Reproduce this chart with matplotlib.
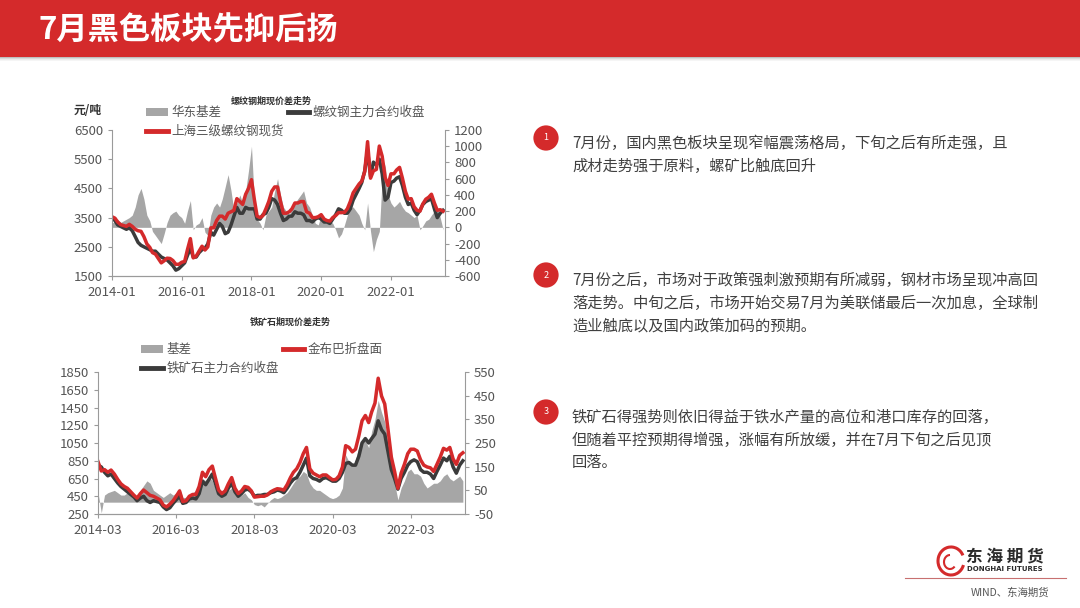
import matplotlib
matplotlib.use('Agg')
import matplotlib.pyplot as plt
import matplotlib.dates as mdates
from matplotlib.patches import Rectangle, Arc, Patch
from matplotlib.lines import Line2D
import pandas as pd

plt.rcParams['font.family'] = ['Noto Sans CJK SC', 'DejaVu Sans']
plt.rcParams['axes.unicode_minus'] = False

# ---- rebar: monthly, 2014-01 .. 2023-07
rebar_basis = [50, 80, 100, 60, 80, 100, 120, 150, 250, 400, 480, 350,
               150, 80, -50, -100, -150, -200, -80, 60, 150, 180, 200, 150,
               120, 50, 200, 330, -30, 30, 50, 120, -60, -100, 150, 250,
               300, 250, 350, 500, 650, 450, 200, 300, 400, 300, 450, 700,
               1000, 300, 100, 50, -30, 150, 200, 250, 450, 600, 400, 250,
               200, 150, 250, 300, 350, 400, 450, 300, 250, 150, 50, 30,
               150, 100, 50, 80, 50, -30, -130, -80, 30, 150, 250, 250,
               200, 150, 50, -30, 300, -50, -300, -150, -50, 600, 780, 400,
               300, 250, 280, 320, 250, 200, 180, 150, 120, 150, -30, 20,
               80, 100, 150, 200, 250, 120, -30]
rebar_fut = [3480, 3400, 3250, 3200, 3150, 3100, 3150, 3050, 2850, 2650, 2550, 2500,
             2450, 2400, 2350, 2350, 2250, 2150, 2100, 2050, 1950, 1850, 1700, 1750,
             1850, 1950, 2200, 2450, 2150, 2150, 2300, 2400, 2450, 2600, 3000, 2900,
             3100, 3300, 3200, 2950, 3000, 3250, 3550, 3850, 3650, 3650, 3850, 3800,
             3800, 3800, 3450, 3450, 3600, 3650, 3850, 4150, 4100, 3950, 3650, 3400,
             3450, 3550, 3550, 3700, 3650, 3650, 3600, 3400, 3400, 3350, 3450, 3500,
             3450, 3350, 3350, 3300, 3450, 3600, 3800, 3750, 3650, 3650, 3800, 4100,
             4300, 4500, 4700, 5100, 5800, 4900, 5400, 5300, 5500, 5000, 4100, 4200,
             4700, 4750, 4850, 4900, 4600, 4200, 3950, 4000, 3750, 3600, 3750, 3950,
             4050, 4100, 4150, 3800, 3500, 3650, 3750]
rebar_spot = [3530, 3480, 3350, 3260, 3230, 3200, 3270, 3200, 3100, 3050, 3030, 2850,
              2600, 2480, 2300, 2250, 2100, 1950, 2020, 2110, 2100, 2030, 1900, 1900,
              1970, 2000, 2400, 2780, 2120, 2180, 2350, 2520, 2390, 2500, 3150, 3150,
              3400, 3550, 3550, 3450, 3650, 3700, 3750, 4150, 4050, 3950, 4300, 4500,
              4800, 4100, 3550, 3500, 3570, 3800, 4050, 4400, 4550, 4550, 4050, 3650,
              3650, 3700, 3800, 4000, 4000, 4050, 4050, 3700, 3650, 3500, 3500, 3530,
              3600, 3450, 3400, 3380, 3500, 3570, 3670, 3670, 3680, 3800, 4050, 4350,
              4500, 4650, 4750, 5070, 6100, 4850, 5100, 5150, 5950, 5600, 4880, 4600,
              5000, 5000, 5130, 5220, 4850, 4400, 4130, 4150, 3870, 3750, 3720, 3970,
              4130, 4200, 4300, 4000, 3750, 3770, 3720]

# ---- iron ore: monthly, 2014-03 .. 2023-07
ore_basis = [40, -45, 30, 40, 45, 50, 40, 30, 30, 40,
             30, 20, 30, 50, 70, 90, 80, 50, 40, 30, 20, 30,
             40, 30, 40, 60, 20, 20, 30, 40, 50, 80, 100, 90,
             110, 90, 60, 40, 30, 40, 50, 60, 40, 30, 30, 40,
             20, 10, -10, -15, -10, -20, -5, 10, 20, 15, 20, 30,
             40, 60, 80, 100, 110, 130, 120, 80, 60, 50, 50, 40,
             30, 20, 15, 20, 30, 60, 200, 170, 150, 180, 230, 250,
             260, 230, 300, 350, 430, 380, 340, 250, 140, 80, 10, 60,
             90, 130, 140, 120, 120, 110, 80, 60, 70, 80, 80, 90,
             110, 120, 100, 90, 100, 110, 90]
ore_fut = [800, 780, 720, 680, 700, 650, 600, 560, 530, 500,
           470, 440, 400, 430, 450, 400, 380, 400, 390, 380, 330, 300,
           320, 370, 410, 450, 370, 380, 420, 430, 420, 480, 620, 580,
           640, 700, 600, 480, 450, 470, 540, 600, 500, 450, 480, 520,
           530, 500, 450, 460, 460, 470, 470, 490, 500, 520, 510, 490,
           540, 600, 640, 660, 720, 800, 880, 680, 650, 640, 620, 650,
           660, 640, 620, 620, 650, 720, 820, 830, 800, 800, 900, 1050,
           1100, 1050, 1100, 1150, 1300, 1200, 1150, 950, 750, 650, 530, 650,
           720, 800, 840, 860, 840, 750, 720, 720, 700, 650, 730, 800,
           880, 850, 900, 780, 710, 800, 850]
ore_spot = [840, 735, 750, 720, 745, 700, 640, 590, 560, 540,
            500, 460, 430, 480, 520, 490, 460, 450, 430, 410, 350, 330,
            360, 400, 450, 510, 390, 400, 450, 470, 470, 560, 720, 670,
            750, 790, 660, 520, 480, 510, 590, 660, 540, 480, 510, 560,
            550, 510, 440, 445, 450, 450, 465, 500, 520, 535, 530, 520,
            580, 660, 720, 760, 830, 930, 1000, 760, 710, 690, 670, 690,
            690, 660, 635, 640, 680, 780, 1020, 1000, 950, 980, 1130, 1300,
            1360, 1280, 1400, 1500, 1780, 1580, 1490, 1200, 890, 730, 540, 710,
            810, 930, 980, 980, 960, 860, 800, 780, 770, 730, 810, 890,
            990, 970, 1000, 870, 810, 910, 940]

rebar_dates = pd.date_range('2014-01-01', periods=len(rebar_fut), freq='MS')
ore_dates = pd.date_range('2014-03-01', periods=len(ore_fut), freq='MS')

RED = '#d42a2b'
DARK = '#3b3b3b'
GRAY = '#a6a6a6'
AXC = '#9a9a9a'
TXT = '#404040'

W, H = 1080, 608


def fx(px):
    return px / W


def fy(py):
    return 1 - py / H


def box(l, t, r, b):
    return [fx(l), fy(b), (r - l) / W, (b - t) / H]


def dual_chart(rect, dates, basis, fut, spot, ylim, yticks, y2lim, y2ticks, xticks):
    ax = fig.add_axes(rect)
    ax2 = ax.twinx()
    ax2.fill_between(dates, 0, basis, color=GRAY, lw=0)
    ax.plot(dates, fut, color=DARK, lw=2.5)
    ax.plot(dates, spot, color=RED, lw=2.5)
    ax.set_zorder(ax2.get_zorder() + 1)
    ax.patch.set_visible(False)
    ax.set_ylim(*ylim)
    ax.set_yticks(yticks)
    ax2.set_ylim(*y2lim)
    ax2.set_yticks(y2ticks)
    ax.set_xlim(dates[0], dates[-1] + pd.Timedelta(days=20))
    ax.set_xticks(pd.to_datetime(xticks))
    ax.xaxis.set_major_formatter(mdates.DateFormatter('%Y-%m'))
    for a in (ax, ax2):
        a.spines['top'].set_visible(False)
        for s in a.spines.values():
            s.set_color(AXC)
            s.set_linewidth(0.8)
        a.tick_params(colors=AXC, labelcolor='#555555', labelsize=9.5, length=3, width=0.8)
    ax.spines['right'].set_visible(False)
    ax2.spines['left'].set_visible(False)
    ax.tick_params(axis='x', pad=4)
    return ax, ax2


fig = plt.figure(figsize=(10.8, 6.08), dpi=100)

# header band with soft shadow
for i, a in enumerate([0.25, 0.15, 0.08, 0.04]):
    fig.add_artist(Rectangle((0, fy(58 + i)), 1, 1 / H, transform=fig.transFigure,
                             color='#000000', alpha=a, lw=0))
fig.add_artist(Rectangle((0, fy(57)), 1, 57 / H, transform=fig.transFigure,
                         color=RED, lw=0))
fig.text(fx(38), fy(30), '7月黑色板块先抑后扬', color='white', fontsize=22.5,
         fontweight='bold', va='center', ha='left')

# ---- top chart: rebar
ax1, ax1r = dual_chart(box(112, 130, 445, 276), rebar_dates, rebar_basis, rebar_fut, rebar_spot,
                       (1500, 6500), range(1500, 6501, 1000), (-600, 1200), range(-600, 1201, 200),
                       ['2014-01-01', '2016-01-01', '2018-01-01', '2020-01-01', '2022-01-01'])
fig.text(fx(271), fy(101), '螺纹钢期现价差走势', fontsize=6.5, fontweight='bold',
         color='#333333', ha='center', va='center')
fig.text(fx(88), fy(110), '元/吨', fontsize=8.5, fontweight='bold', color='#333333',
         ha='center', va='center')
h_gray = Patch(facecolor=GRAY, edgecolor='none')
h_dark = Line2D([], [], color=DARK, lw=3.5)
h_red = Line2D([], [], color=RED, lw=3.5)
fig.legend([h_gray, h_red, h_dark], ['华东基差', '上海三级螺纹钢现货', '螺纹钢主力合约收盘'],
           loc='upper left', bbox_to_anchor=(fx(140), fy(100)), ncol=2, frameon=False,
           fontsize=9, handlelength=1.7, handletextpad=0.3, columnspacing=0.3,
           labelspacing=0.45, borderpad=0, labelcolor='#555555')

# ---- bottom chart: iron ore
ax2, ax2r = dual_chart(box(98, 372, 465, 514), ore_dates, ore_basis, ore_fut, ore_spot,
                       (250, 1850), range(250, 1851, 200), (-50, 550), range(-50, 551, 100),
                       ['2014-03-01', '2016-03-01', '2018-03-01', '2020-03-01', '2022-03-01'])
fig.text(fx(290), fy(322), '铁矿石期现价差走势', fontsize=6.5, fontweight='bold',
         color='#333333', ha='center', va='center')
fig.legend([h_gray, h_dark, h_red], ['基差', '铁矿石主力合约收盘', '金布巴折盘面'],
           loc='upper left', bbox_to_anchor=(fx(135), fy(337)), ncol=2, frameon=False,
           fontsize=9, handlelength=1.7, handletextpad=0.3, columnspacing=0.3,
           labelspacing=0.45, borderpad=0, labelcolor='#555555')

# ---- commentary
paras = [
    (138, ['7月份，国内黑色板块呈现窄幅震荡格局，下旬之后有所走强，且',
           '成材走势强于原料，螺矿比触底回升']),
    (275, ['7月份之后，市场对于政策强刺激预期有所减弱，钢材市场呈现冲高回',
           '落走势。中旬之后，市场开始交易7月为美联储最后一次加息，全球制',
           '造业触底以及国内政策加码的预期。']),
    (412, ['铁矿石得强势则依旧得益于铁水产量的高位和港口库存的回落，',
           '但随着平控预期得增强，涨幅有所放缓，并在7月下旬之后见顶',
           '回落。']),
]
for n, (ytop, lines) in enumerate(paras, 1):
    fig.text(fx(546), fy(ytop), str(n), fontsize=6.5, color='white', ha='center', va='center',
             bbox=dict(boxstyle='circle,pad=0.9', fc=RED, ec='none'))
    for k, line in enumerate(lines):
        fig.text(fx(572), fy(ytop + 5 + 23 * k), line, fontsize=11, color=TXT,
                 ha='left', va='center')

# ---- logo block
fig.add_artist(Arc((fx(951), fy(561)), 26 / W, 28 / H, theta1=40, theta2=330,
                   transform=fig.transFigure, color=RED, lw=2.2))
fig.add_artist(Arc((fx(950), fy(562)), 12 / W, 14 / H, theta1=90, theta2=300,
                   transform=fig.transFigure, color=RED, lw=1.5))
fig.text(fx(1005), fy(556), '东 海 期 货', fontsize=12, fontweight='bold', color='#2b2b2b',
         ha='center', va='center')
fig.text(fx(1005), fy(569), 'DONGHAI FUTURES', fontsize=5, fontweight='bold', color='#2b2b2b',
         ha='center', va='center', family='DejaVu Sans')
fig.add_artist(Line2D([fx(905), fx(1066)], [fy(578), fy(578)], transform=fig.transFigure,
                      color='#c87070', lw=0.8))
fig.text(fx(1010), fy(593), 'WIND、东海期货', fontsize=7.5, color='#555555',
         ha='center', va='center')

fig.savefig('out.png', dpi=100)
